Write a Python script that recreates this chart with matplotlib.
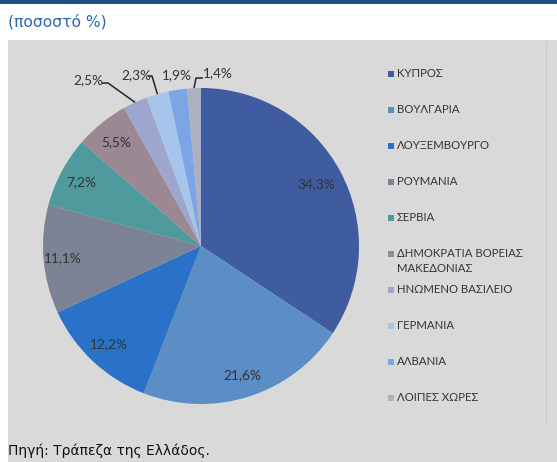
import numpy as np
import matplotlib
matplotlib.use("Agg")
import matplotlib.pyplot as plt
from matplotlib.patches import Rectangle
from matplotlib.lines import Line2D

categories = ["ΚΥΠΡΟΣ", "ΒΟΥΛΓΑΡΙΑ", "ΛΟΥΞΕΜΒΟΥΡΓΟ", "ΡΟΥΜΑΝΙΑ", "ΣΕΡΒΙΑ",
              "ΔΗΜΟΚΡΑΤΙΑ ΒΟΡΕΙΑΣ\nΜΑΚΕΔΟΝΙΑΣ", "ΗΝΩΜΕΝΟ ΒΑΣΙΛΕΙΟ", "ΓΕΡΜΑΝΙΑ",
              "ΑΛΒΑΝΙΑ", "ΛΟΙΠΕΣ ΧΩΡΕΣ"]
values = [34.3, 21.6, 12.2, 11.1, 7.2, 5.5, 2.5, 2.3, 1.9, 1.4]
labels = ["34,3%", "21,6%", "12,2%", "11,1%", "7,2%", "5,5%", "2,5%", "2,3%", "1,9%", "1,4%"]
colors = ["#3F5CA0", "#5A8EC4", "#2A72C8", "#7C8394", "#4E9A9C",
          "#9B8892", "#9FA6CE", "#A5C6EA", "#7DA4E4", "#ACB0C0"]
title = "(ποσοστό %)"
source = "Πηγή: Τράπεζα της Ελλάδος."

W, H = 557, 462
fig = plt.figure(figsize=(W / 100, H / 100), dpi=100)
fig.patch.set_facecolor("white")

def fx(px):
    return px / W

def fy(py):
    return 1 - py / H

# background panel and header bar
fig.add_artist(Rectangle((fx(8), 0), 1 - fx(8), fy(40), transform=fig.transFigure,
                         facecolor="#D9D9D9", edgecolor="none", zorder=0))
fig.add_artist(Rectangle((0, fy(3.5)), 1, 1 - fy(3.5), transform=fig.transFigure,
                         facecolor="#1F4E86", edgecolor="none", zorder=0))
fig.add_artist(Line2D([fx(546), fx(546)], [fy(42), fy(423)], transform=fig.transFigure,
                      color="#CCCCCC", lw=0.8, zorder=1))

fig.text(fx(8), fy(22), title, color="#2868B0", fontsize=11.2, family="DejaVu Sans",
         ha="left", va="center")
fig.text(fx(8), fy(451), source, color="#111111", fontsize=10, family="DejaVu Sans",
         ha="left", va="center")

# pie axes: center (201,246), radius 158 px
cx, cy, R = 201, 246, 158
ax = fig.add_axes([fx(cx - R), fy(cy + R), 2 * R / W, 2 * R / H])
ax.axis("off")

wedges, _ = ax.pie(values, colors=colors, startangle=90, counterclock=False, radius=1,
                   wedgeprops=dict(linewidth=0))
ax.set_xlim(-1, 1)
ax.set_ylim(-1, 1)
ax.set_aspect("equal")

txt_kw = dict(fontsize=9.8, family="Lato", color="#333333", ha="center", va="center")
inner_r = [0.83, 0.86, 0.85, 0.88, 0.86, 0.85]
for w, lab, r in zip(wedges[:6], labels[:6], inner_r):
    ang = np.deg2rad((w.theta1 + w.theta2) / 2)
    ax.text(r * np.cos(ang), r * np.sin(ang), lab, **txt_kw)

# outer labels with leader lines (text pos in px, elbow in px or None)
def d(px, py):
    return ((px - cx) / R, (cy - py) / R)

outer = {
    6: dict(text=(88, 80), line=[(102, 83), (108, 83)]),
    7: dict(text=(136, 75), line=[(148, 76), (152, 76)]),
    8: dict(text=(177, 75), line=None),
    9: dict(text=(218, 73), line=[(203, 78), (196, 78)]),
}
for i, spec in outer.items():
    w = wedges[i]
    tx, ty = d(*spec["text"])
    ax.text(tx, ty, labels[i], clip_on=False, **txt_kw)
    if spec["line"]:
        ang = np.deg2rad((w.theta1 + w.theta2) / 2)
        ex, ey = np.cos(ang), np.sin(ang)
        pts = [d(*p) for p in spec["line"]]
        xs = [pts[0][0], pts[1][0], ex]
        ys = [pts[0][1], pts[1][1], ey]
        ax.plot(xs, ys, color="#262626", lw=1.1, clip_on=False, solid_capstyle="butt")

# legend (manual)
leg_y0, leg_dy = 74, 36
for i, (cat, col) in enumerate(zip(categories, colors)):
    y = leg_y0 + leg_dy * i
    fig.add_artist(Rectangle((fx(388), fy(y + 3)), 6 / W, 6 / H, transform=fig.transFigure,
                             facecolor=col, edgecolor="none"))
    fig.text(fx(397), fy(y - 6), cat, fontsize=8.2, family="Lato", color="#333333",
             ha="left", va="top", linespacing=1.5)

fig.savefig("out.png", dpi=100, facecolor=fig.get_facecolor())
